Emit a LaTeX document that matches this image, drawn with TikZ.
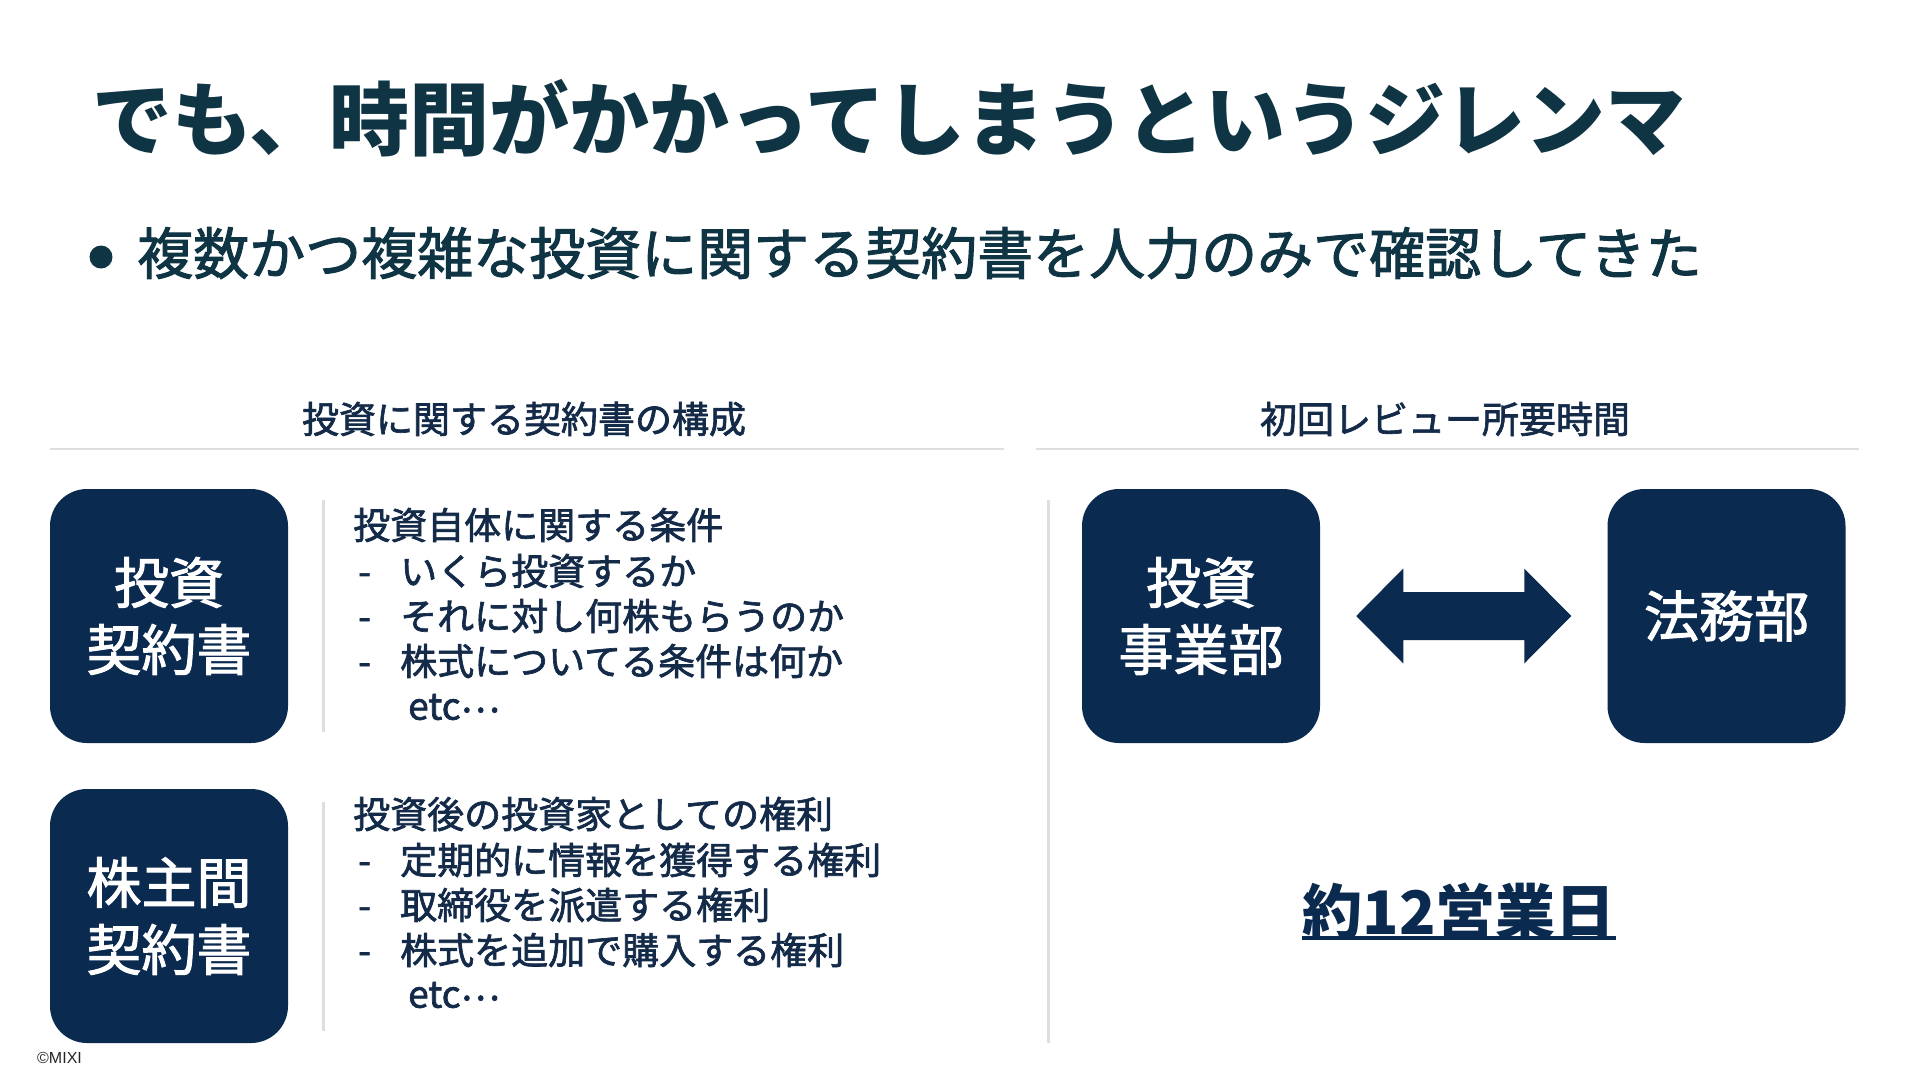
\documentclass[tikz,border=0pt]{standalone}
\usepackage{fontspec}
\setmainfont{Noto Sans CJK JP}
\newfontfamily\medfont{Noto Sans CJK JP}[FakeBold=1.8]
\newfontfamily\latinsans{Liberation Sans}
\usetikzlibrary{calc}
\definecolor{titlecol}{HTML}{0F3443}
\definecolor{navy}{HTML}{0B2A4F}
\definecolor{bodycol}{HTML}{132A48}
\definecolor{rulecol}{HTML}{DEDEDE}
\newcommand{\myetc}{etc\raisebox{0.2em}{…}}
\tikzset{
  txt/.style={inner sep=0pt, anchor=west, text=bodycol},
  body/.style={txt, font=\medfont\fontsize{37}{44}\selectfont},
  hdr/.style={inner sep=0pt, text=bodycol, font=\medfont\fontsize{37}{44}\selectfont},
  navybox/.style={fill=navy, rounded corners=37pt, minimum width=238pt, minimum height=254pt,
    inner sep=0pt, text=white, align=center, font=\medfont\fontsize{55}{67}\selectfont},
  rule/.style={draw=rulecol, line width=2pt},
  vrule/.style={draw=rulecol, line width=3pt},
}
\begin{document}
\begin{tikzpicture}[x=1pt,y=-1pt]
\useasboundingbox[fill=white] (0,0) rectangle (1920,1080);

% title and bullet
\node[txt, text=titlecol, font=\fontsize{80}{96}\selectfont\bfseries] (title) at (92,118) {でも、時間がかかってしまうというジレンマ};
\node[circle, fill=titlecol, inner sep=0pt, minimum size=23pt] (dot) at (101,257) {};
\node[txt, text=titlecol, font=\medfont\fontsize{56}{68}\selectfont] (bullet) at (137,253) {複数かつ複雑な投資に関する契約書を人力のみで確認してきた};

% section headers and rules
\node[hdr] (h1) at (524,419) {投資に関する契約書の構成};
\node[hdr] (h2) at (1445,419) {初回レビュー所要時間};
\coordinate (r1a) at (50,449);  \coordinate (r1b) at (1004,449);
\coordinate (r2a) at (1036,449); \coordinate (r2b) at (1859,449);
\draw[rule] (r1a) -- (r1b);
\draw[rule] (r2a) -- (r2b);

% vertical separators
\coordinate (v1a) at (323,500); \coordinate (v1b) at (323,732);
\coordinate (v2a) at (323,802); \coordinate (v2b) at (323,1031);
\coordinate (v3a) at (1048,500); \coordinate (v3b) at (1048,1043);
\draw[vrule] (v1a) -- (v1b);
\draw[vrule] (v2a) -- (v2b);
\draw[vrule] (v3a) -- (v3b);

% boxes
\node[navybox] (b1) at (169,616) {投資\\契約書};
\node[navybox] (b2) at (169,916) {株主間\\契約書};
\node[navybox] (b3) at (1201,616) {投資\\事業部};
\node[navybox] (b4) at (1726.5,616) {法務部};

% block 1 text
\node[body] (p1) at (353,525) {投資自体に関する条件};
\node[body] (p1a) at (358,571) {\makebox[42pt][l]{-}いくら投資するか};
\node[body] (p1b) at (358,616) {\makebox[42pt][l]{-}それに対し何株もらうのか};
\node[body] (p1c) at (358,661) {\makebox[42pt][l]{-}株式についてる条件は何か};
\node[body] (e1) at (408,707) {\myetc};

% block 2 text
\node[body] (p2) at (353,814) {投資後の投資家としての権利};
\node[body] (p2a) at (358,860) {\makebox[42pt][l]{-}定期的に情報を獲得する権利};
\node[body] (p2b) at (358,905) {\makebox[42pt][l]{-}取締役を派遣する権利};
\node[body] (p2c) at (358,950) {\makebox[42pt][l]{-}株式を追加で購入する権利};
\node[body] (e2) at (408,995) {\myetc};

% double arrow between b3 and b4
\coordinate (ac) at ($(b3.east)!0.5!(b4.west)$);
\fill[navy] ($(ac)+(-107.5,0)$) -- ++(47,-47.5) -- ++(0,23.5) -- ++(121,0) -- ++(0,-23.5)
  -- ++(47,47.5) -- ++(-47,47.5) -- ++(0,-23.5) -- ++(-121,0) -- ++(0,23.5) -- cycle;

% result
\node[inner sep=0pt, text=navy, font=\fontsize{60}{72}\selectfont\bfseries] (res) at (1459,912) {約12営業日};
\draw[navy, line width=4pt] ([yshift=3pt]res.south west) -- ([yshift=3pt]res.south east);

% copyright
\node[inner sep=0pt, anchor=west, font=\latinsans\fontsize{16}{18}\selectfont, text=black!85] (copy) at (37,1058) {©MIXI};
\end{tikzpicture}
\end{document}
